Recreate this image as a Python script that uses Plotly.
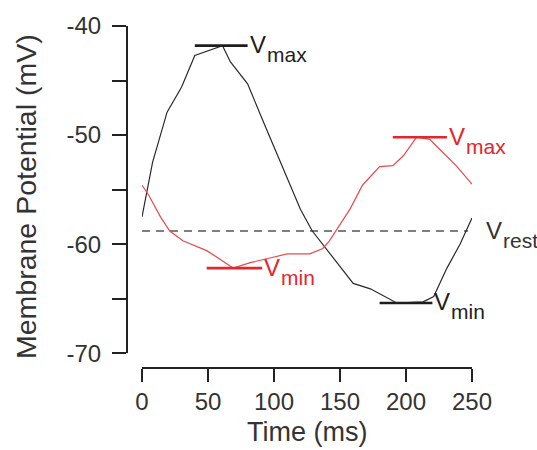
import plotly.graph_objects as go

# Membrane potential traces (time in ms, potential in mV)
black_t = [0, 8, 19, 30, 40, 61, 67, 80, 92, 107, 120, 129, 140, 160, 173, 193, 213, 221, 231, 241, 250]
black_v = [-57.5, -52.5, -47.9, -45.6, -42.7, -41.8, -43.3, -45.3, -48.8, -53.1, -56.8, -58.8,
           -60.5, -63.6, -64.1, -65.4, -65.3, -64.8, -62.2, -60.0, -57.6]

red_t = [0, 5, 14, 21, 31, 49, 58, 69, 82, 95, 110, 127, 137, 142, 148, 158, 167, 180, 190,
         198, 208, 218, 223, 238, 250]
red_v = [-54.6, -55.5, -57.5, -58.8, -59.7, -60.6, -61.3, -62.2, -61.7, -61.3, -60.9, -60.9,
         -60.4, -59.7, -58.6, -56.7, -54.6, -52.9, -52.8, -51.9, -50.2, -50.4, -51.0, -52.8, -54.5]

# Extremum markers: (t_start, t_end, level)
black_vmax = (40, 80, -41.8)
black_vmin = (180, 220, -65.4)
red_vmax = (190, 231, -50.2)
red_vmin = (49, 91, -62.2)

# Resting potential reference
rest_t = [0, 247]
rest_v = -58.8

x_ticks = [0, 50, 100, 150, 200, 250]
y_ticks = [-70, -65, -60, -55, -50, -45, -40]
y_ticktext = ["-70", "", "-60", "", "-50", "", "-40"]

FONT = "Liberation Sans, Arial, Helvetica, sans-serif"
TXT = "#333333"
AX = "#222222"
RED = "#e3262d"

fig = go.Figure()

fig.add_trace(go.Scatter(x=rest_t, y=[rest_v, rest_v], mode="lines",
                         line=dict(color="#555555", width=1.3, dash="8px,6px"),
                         hoverinfo="skip"))
fig.add_trace(go.Scatter(x=black_t, y=black_v, mode="lines",
                         line=dict(color="#2a2a2a", width=1.2)))
fig.add_trace(go.Scatter(x=red_t, y=red_v, mode="lines",
                         line=dict(color="#e64a4f", width=1.2)))

annotations = []


def add_marker(bar, color, sub):
    t0, t1, lvl = bar
    fig.add_trace(go.Scatter(x=[t0, t1], y=[lvl, lvl], mode="lines",
                             line=dict(color=color, width=2.6), cliponaxis=False))
    annotations.append(dict(x=t1, y=lvl, xref="x", yref="y", text="V", showarrow=False,
                            xanchor="left", yanchor="middle", xshift=0, yshift=1,
                            font=dict(family=FONT, size=24, color=color)))
    annotations.append(dict(x=t1, y=lvl, xref="x", yref="y", text=sub, showarrow=False,
                            xanchor="left", yanchor="middle", xshift=17, yshift=-9,
                            font=dict(family=FONT, size=21, color=color)))


add_marker(black_vmax, "#1e1e1e", "max")
add_marker(black_vmin, "#1e1e1e", "min")
add_marker(red_vmax, RED, "max")
add_marker(red_vmin, RED, "min")

# Resting potential label
annotations.append(dict(x=rest_t[1], y=rest_v, xref="x", yref="y", text="V", showarrow=False,
                        xanchor="left", yanchor="middle", xshift=16, yshift=1,
                        font=dict(family=FONT, size=24, color=TXT)))
annotations.append(dict(x=rest_t[1], y=rest_v, xref="x", yref="y", text="rest", showarrow=False,
                        xanchor="left", yanchor="middle", xshift=33, yshift=-9,
                        font=dict(family=FONT, size=21, color=TXT)))

# Axis titles
annotations.append(dict(x=0, y=0.5, xref="paper", yref="paper", text="Membrane Potential (mV)",
                        textangle=-90, showarrow=False, xanchor="center", yanchor="middle",
                        xshift=-101, font=dict(family=FONT, size=28.5, color=TXT)))
annotations.append(dict(x=125, y=0, xref="x", yref="paper", text="Time (ms)",
                        showarrow=False, xanchor="center", yanchor="middle",
                        yshift=-64, font=dict(family=FONT, size=27, color=TXT)))

fig.update_layout(
    width=537, height=450,
    margin=dict(l=127, r=65, t=22, b=82),
    paper_bgcolor="white", plot_bgcolor="white",
    showlegend=False,
    font=dict(family=FONT, color=TXT),
    annotations=annotations,
    xaxis=dict(domain=[0.0435, 1], range=[0, 250], anchor="free", position=0,
               showline=True, linecolor=AX, linewidth=2, ticks="outside", ticklen=13,
               tickwidth=2, tickcolor=AX, tickvals=x_ticks, showgrid=False, zeroline=False,
               tickfont=dict(family=FONT, size=24, color=TXT), ticklabelstandoff=-1),
    yaxis=dict(domain=[0.0434, 1], range=[-70, -40], anchor="free", position=0,
               showline=True, linecolor=AX, linewidth=2, ticks="outside", ticklen=14,
               tickwidth=2, tickcolor=AX, tickvals=y_ticks, ticktext=y_ticktext,
               showgrid=False, zeroline=False,
               tickfont=dict(family=FONT, size=24, color=TXT), ticklabelstandoff=6),
)

fig.write_html("out.html")
